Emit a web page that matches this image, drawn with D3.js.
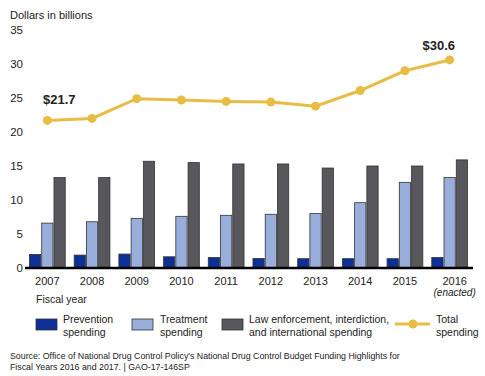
<!DOCTYPE html>
<html>
<head>
<meta charset="utf-8">
<script src="https://cdn.jsdelivr.net/npm/d3@7"></script>
<style>
  body { margin: 0; background: #fff; }
  text { font-family: "Liberation Sans", Arial, sans-serif; fill: #222; }
</style>
</head>
<body>
<div id="chart"></div>
<script>
// Data
const years = ["2007", "2008", "2009", "2010", "2011", "2012", "2013", "2014", "2015", "2016"];
const prevention = [2.0, 1.9, 2.05, 1.65, 1.55, 1.4, 1.37, 1.37, 1.37, 1.55];
const treatment = [6.6, 6.8, 7.3, 7.6, 7.75, 7.9, 8.0, 9.6, 12.6, 13.3];
const lawEnforcement = [13.3, 13.3, 15.7, 15.5, 15.3, 15.3, 14.7, 15.0, 15.0, 15.9];
const total = [21.7, 22.0, 24.9, 24.7, 24.5, 24.4, 23.8, 26.1, 29.0, 30.6];
const yTicks = [0, 5, 10, 15, 20, 25, 30, 35];
const seriesKeys = ["prevention", "treatment", "law"];

const colors = { prevention: "#0c3096", treatment: "#9aaedc", law: "#58585c", total: "#e8bd45" };

const W = 485, H = 376;

const svg = d3.select("#chart")
    .append("svg")
    .attr("width", W)
    .attr("height", H);

// Scales
const x = d3.scaleBand()
    .domain(years)
    .range([25, 472])
    .paddingInner(0.2)
    .paddingOuter(0.1);

const xSub = d3.scaleBand()
    .domain(seriesKeys)
    .range([0, x.bandwidth()])
    .paddingInner(0.08);

const y = d3.scaleLinear()
    .domain([0, 35])
    .range([268, 30]);

// Y axis labels only
const yAxis = svg.append("g")
    .attr("transform", "translate(23,0)")
    .call(d3.axisLeft(y).tickValues(yTicks).tickSize(0).tickPadding(0));
yAxis.select(".domain").remove();
yAxis.selectAll("text")
    .style("font-family", "Liberation Sans, Arial, sans-serif")
    .style("font-size", "11.5px")
    .attr("fill", "#333");

svg.append("text")
    .attr("x", 10)
    .attr("y", 19)
    .style("font-size", "11px")
    .text("Dollars in billions");

// Bars
const rows = years.map((yr, i) => ({
    year: yr,
    values: [
        { key: "prevention", v: prevention[i] },
        { key: "treatment", v: treatment[i] },
        { key: "law", v: lawEnforcement[i] }
    ]
}));

svg.append("g")
    .selectAll("g")
    .data(rows)
    .enter()
    .append("g")
    .attr("transform", d => `translate(${x(d.year)},0)`)
    .selectAll("rect")
    .data(d => d.values)
    .enter()
    .append("rect")
    .attr("x", d => xSub(d.key))
    .attr("y", d => y(d.v))
    .attr("width", xSub.bandwidth())
    .attr("height", d => y(0) - y(d.v))
    .attr("fill", d => colors[d.key])
    .attr("stroke", "#333")
    .attr("stroke-width", 0.8);

// Baseline
svg.append("line")
    .attr("x1", 25)
    .attr("x2", 473)
    .attr("y1", y(0))
    .attr("y2", y(0))
    .attr("stroke", "#000")
    .attr("stroke-width", 2.5);

// X labels
const cx = d => x(d) + x.bandwidth() / 2;
svg.append("g")
    .selectAll("text")
    .data(years)
    .enter()
    .append("text")
    .attr("x", d => cx(d) + (d === "2016" ? 5 : 0))
    .attr("y", 285)
    .attr("text-anchor", "middle")
    .style("font-size", "11px")
    .attr("fill", "#333")
    .text(d => d);

svg.append("text")
    .attr("x", cx("2016") + 5)
    .attr("y", 296)
    .attr("text-anchor", "middle")
    .style("font-size", "10px")
    .style("font-style", "italic")
    .attr("fill", "#333")
    .text("(enacted)");

svg.append("text")
    .attr("x", 36)
    .attr("y", 303)
    .style("font-size", "10.5px")
    .text("Fiscal year");

// Total line
const line = d3.line()
    .x((d, i) => cx(years[i]))
    .y(d => y(d));

svg.append("path")
    .datum(total)
    .attr("d", line)
    .attr("fill", "none")
    .attr("stroke", colors.total)
    .attr("stroke-width", 3);

svg.append("g")
    .selectAll("circle")
    .data(total)
    .enter()
    .append("circle")
    .attr("cx", (d, i) => cx(years[i]))
    .attr("cy", d => y(d))
    .attr("r", 4.5)
    .attr("fill", colors.total);

// Value callouts
svg.append("text")
    .attr("x", 43)
    .attr("y", 104)
    .style("font-size", "13px")
    .style("font-weight", "bold")
    .text("$" + total[0].toFixed(1));

svg.append("text")
    .attr("x", 455)
    .attr("y", 50)
    .attr("text-anchor", "end")
    .style("font-size", "13px")
    .style("font-weight", "bold")
    .text("$" + total[total.length - 1].toFixed(1));

// Legend
const legendData = [
    { key: "prevention", x: 36, tx: 63, lines: ["Prevention", "spending"] },
    { key: "treatment", x: 132, tx: 160, lines: ["Treatment", "spending"] },
    { key: "law", x: 222, tx: 249, lines: ["Law enforcement, interdiction,", "and international spending"] }
];

const legend = svg.append("g");

legend.selectAll("rect")
    .data(legendData)
    .enter()
    .append("rect")
    .attr("x", d => d.x)
    .attr("y", 319)
    .attr("width", 21)
    .attr("height", 11)
    .attr("fill", d => colors[d.key])
    .attr("stroke", "#333")
    .attr("stroke-width", 0.8);

legendData.forEach(d => {
    const t = legend.append("text")
        .attr("x", d.tx)
        .attr("y", 323)
        .style("font-size", "10.5px");
    d.lines.forEach((ln, i) => {
        t.append("tspan").attr("x", d.tx).attr("dy", i === 0 ? 0 : 13).text(ln);
    });
});

legend.append("line")
    .attr("x1", 395).attr("x2", 430)
    .attr("y1", 324).attr("y2", 324)
    .attr("stroke", colors.total)
    .attr("stroke-width", 3);
legend.append("circle")
    .attr("cx", 413).attr("cy", 324).attr("r", 4.5)
    .attr("fill", colors.total);
const tt = legend.append("text").attr("x", 436).attr("y", 323).style("font-size", "10.5px");
tt.append("tspan").attr("x", 436).attr("dy", 0).text("Total");
tt.append("tspan").attr("x", 436).attr("dy", 13).text("spending");

// Source note
const src = svg.append("text")
    .attr("x", 10)
    .attr("y", 359)
    .style("font-size", "8.8px");
src.append("tspan").attr("x", 10).attr("dy", 0)
    .text("Source: Office of National Drug Control Policy's National Drug Control Budget Funding Highlights for");
src.append("tspan").attr("x", 10).attr("dy", 10.5)
    .text("Fiscal Years 2016 and 2017.  |  GAO-17-146SP");
</script>
</body>
</html>
